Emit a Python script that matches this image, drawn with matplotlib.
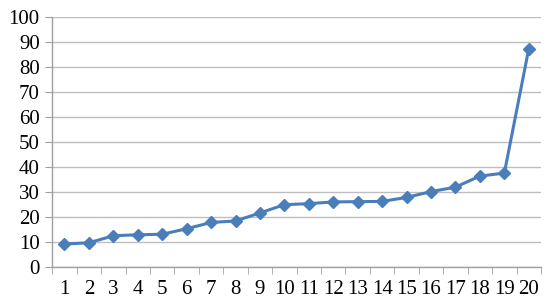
import numpy as np
import matplotlib as mpl
mpl.use('Agg')
import matplotlib.pyplot as plt

# values
categories = list(range(1, 21))
values = [9.3, 9.8, 12.6, 13.0, 13.2, 15.4, 17.9, 18.5, 21.7, 25.0,
          25.4, 26.1, 26.2, 26.3, 27.9, 30.2, 32.0, 36.4, 37.6, 87.2]
y_ticks = list(range(0, 101, 10))

plt.rcParams['font.family'] = ['Liberation Serif', 'DejaVu Serif']

fig = plt.figure(figsize=(5.56, 3.08), dpi=100)
ax = fig.add_axes([0.094, 0.132, 0.879, 0.814])

ax.plot(categories, values, color='#4A7EBB', lw=2.2, marker='D', ms=6.5,
        markerfacecolor='#4A7EBB', markeredgecolor='#4A7EBB', zorder=3)

ax.set_xlim(0.5, len(categories) + 0.5)
ax.set_ylim(0, 100)
ax.set_yticks(y_ticks)
ax.set_xticks(categories)
ax.set_xticklabels([str(c) for c in categories])
ax.set_xticks(np.arange(0.5, len(categories) + 1, 1), minor=True)

ax.grid(axis='y', color='#BEBEBE', lw=1.0, zorder=0)
ax.tick_params(axis='x', which='major', length=0, pad=9, labelsize=15)
ax.tick_params(axis='x', which='minor', length=5, color='#A0A0A0', direction='out')
ax.tick_params(axis='y', length=5, color='#A0A0A0', pad=4, labelsize=15)

for s in ['top', 'right']:
    ax.spines[s].set_visible(False)
for s in ['left', 'bottom']:
    ax.spines[s].set_color('#A0A0A0')
    ax.spines[s].set_linewidth(1.0)

fig.savefig('out.png', dpi=100)
